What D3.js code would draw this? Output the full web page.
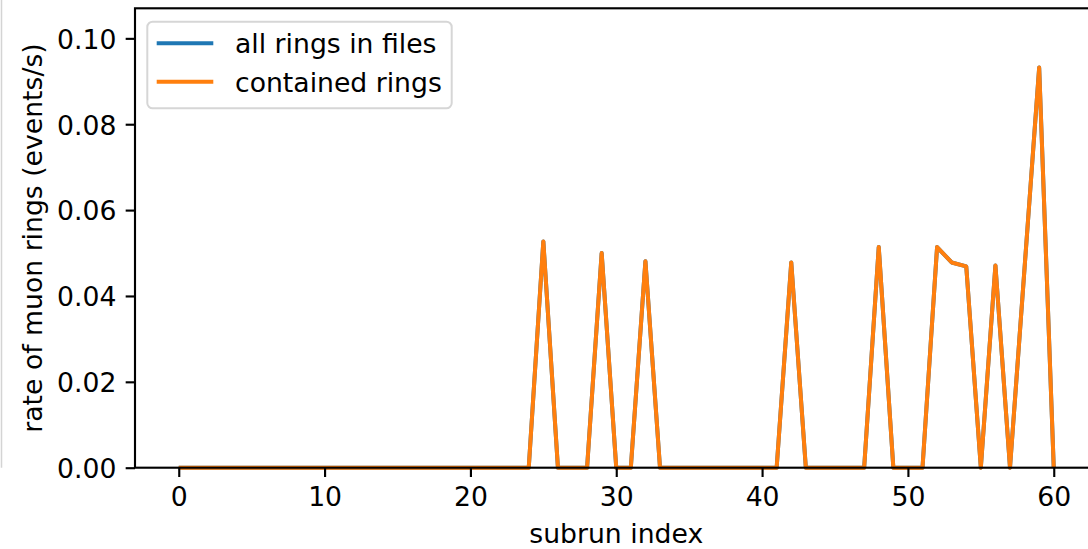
<!DOCTYPE html>
<html>
<head>
<meta charset="utf-8">
<script src="https://cdn.jsdelivr.net/npm/d3@7"></script>
<style>
    body { margin: 0; background: #ffffff; }
    svg { display: block; font-family: "DejaVu Sans", sans-serif; }
</style>
</head>
<body>
<div id="chart"></div>
<script>
// subrun index 0..60
var subruns = d3.range(0, 61);

// rate of muon rings (events/s)
var allRings = [
    0, 0, 0, 0, 0, 0, 0, 0, 0, 0,
    0, 0, 0, 0, 0, 0, 0, 0, 0, 0,
    0, 0, 0, 0, 0, 0.0527, 0, 0, 0, 0.0500,
    0, 0, 0.0481, 0, 0, 0, 0, 0, 0, 0,
    0, 0, 0.0478, 0, 0, 0, 0, 0, 0.0514, 0,
    0, 0, 0.0514, 0.0478, 0.0469, 0, 0.0471, 0, 0.0466, 0.0932,
    0
];
var containedRings = [
    0, 0, 0, 0, 0, 0, 0, 0, 0, 0,
    0, 0, 0, 0, 0, 0, 0, 0, 0, 0,
    0, 0, 0, 0, 0, 0.0527, 0, 0, 0, 0.0500,
    0, 0, 0.0481, 0, 0, 0, 0, 0, 0, 0,
    0, 0, 0.0478, 0, 0, 0, 0, 0, 0.0514, 0,
    0, 0, 0.0514, 0.0478, 0.0469, 0, 0.0471, 0, 0.0466, 0.0932,
    0
];

var seriesNames = ['all rings in files', 'contained rings'];
var seriesColors = ['#1f77b4', '#ff7f0e'];
var xTicks = [0, 10, 20, 30, 40, 50, 60];
var yTicks = [0, 0.02, 0.04, 0.06, 0.08, 0.10];

var width = 1088, height = 549;
var fontSize = 26.67;
var margin = {top: 8.3, left: 135, bottom: 81.3};
var plotW = 962.5;   // right spine falls outside the picture
var plotH = height - margin.top - margin.bottom;

var svg = d3.select('#chart').append('svg')
    .attr('width', width)
    .attr('height', height);

// thin grey edge at far left of the figure
svg.append('line')
    .attr('x1', 1.5).attr('x2', 1.5)
    .attr('y1', 0).attr('y2', margin.top + plotH)
    .attr('stroke', '#d4d4d4')
    .attr('stroke-width', 1.5);

var g = svg.append('g')
    .attr('transform', 'translate(' + margin.left + ',' + margin.top + ')');

var xScale = d3.scaleLinear().domain([-3, 63]).range([0, plotW]);
var yScale = d3.scaleLinear().domain([0, 0.107]).range([plotH, 0]);

var line = d3.line()
    .x(function (d, i) { return xScale(subruns[i]); })
    .y(function (d) { return yScale(d); });

// lines go under the spines, like matplotlib
[allRings, containedRings].forEach(function (vals, k) {
    g.append('path')
        .datum(vals)
        .attr('d', line)
        .attr('fill', 'none')
        .attr('stroke', seriesColors[k])
        .attr('stroke-width', 4)
        .attr('stroke-linejoin', 'round');
});

// x axis
var xAxis = g.append('g')
    .attr('transform', 'translate(0,' + plotH + ')')
    .call(d3.axisBottom(xScale).tickValues(xTicks).tickSizeOuter(0)
        .tickSize(9.33).tickPadding(9.8));

// y axis
var yAxis = g.append('g')
    .call(d3.axisLeft(yScale).tickValues(yTicks).tickSizeOuter(0)
        .tickSize(9.33).tickPadding(9.3).tickFormat(d3.format('.2f')));

[xAxis, yAxis].forEach(function (ax) {
    ax.select('.domain').remove();
    ax.selectAll('line').attr('stroke', '#000').attr('stroke-width', 2.13);
    ax.selectAll('text')
        .attr('fill', '#000')
        .style('font-size', fontSize + 'px')
        .style('font-family', '"DejaVu Sans", sans-serif');
});
yAxis.selectAll('text').attr('dy', '0.37em');

// spines
g.append('rect')
    .attr('x', 0).attr('y', 0)
    .attr('width', plotW).attr('height', plotH)
    .attr('fill', 'none')
    .attr('stroke', '#000')
    .attr('stroke-width', 2.13);

// axis labels
svg.append('text')
    .attr('x', margin.left + plotW / 2)
    .attr('y', 543.3)
    .attr('text-anchor', 'middle')
    .style('font-size', fontSize + 'px')
    .text('subrun index');

svg.append('text')
    .attr('transform', 'translate(41.5,' + (margin.top + plotH / 2) + ')rotate(-90)')
    .attr('text-anchor', 'middle')
    .style('font-size', fontSize + 'px')
    .text('rate of muon rings (events/s)');

// legend
var legend = svg.append('g');
legend.append('rect')
    .attr('x', 147.3).attr('y', 21.7)
    .attr('width', 304.4).attr('height', 86.6)
    .attr('rx', 5.3)
    .attr('fill', '#ffffff')
    .attr('fill-opacity', 0.8)
    .attr('stroke', '#d6d6d6')
    .attr('stroke-width', 2);

var legendRows = legend.selectAll('g.row').data(seriesNames)
    .enter().append('g')
    .attr('class', 'row')
    .attr('transform', function (d, i) { return 'translate(0,' + (43.3 + i * 38.4) + ')'; });

legendRows.append('line')
    .attr('x1', 156.7).attr('x2', 213.3)
    .attr('y1', 0).attr('y2', 0)
    .attr('stroke', function (d, i) { return seriesColors[i]; })
    .attr('stroke-width', 4);

legendRows.append('text')
    .attr('x', 235)
    .attr('y', 10)
    .style('font-size', fontSize + 'px')
    .text(function (d) { return d; });
</script>
</body>
</html>
